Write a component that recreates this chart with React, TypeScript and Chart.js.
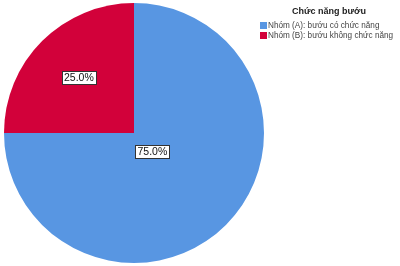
import React, { useEffect, useRef } from "react";
import { Chart, registerables } from "chart.js";

Chart.register(...registerables);

const legendTitle = "Chức năng bướu";
const categories = ["Nhóm (A): bướu có chức năng", "Nhóm (B): bướu không chức năng"];
const values = [75.0, 25.0];
const colors = ["#5896e2", "#d2013a"];
const labelRadiusFraction = [0.2, 0.6];

const FONT = "'Liberation Sans', Arial, sans-serif";

const overlayPlugin = {
  id: "overlay",
  afterDatasetsDraw(chart: any) {
    const ctx = chart.ctx;
    const meta = chart.getDatasetMeta(0);
    const total = values.reduce((a, b) => a + b, 0);
    ctx.save();
    ctx.font = `10.5px ${FONT}`;
    ctx.textAlign = "center";
    ctx.textBaseline = "middle";
    meta.data.forEach((arc: any, i: number) => {
      const p = arc.getProps(["x", "y", "startAngle", "endAngle", "outerRadius"], true);
      const mid = (p.startAngle + p.endAngle) / 2;
      const r = p.outerRadius * labelRadiusFraction[i];
      const x = p.x + Math.cos(mid) * r;
      const y = p.y + Math.sin(mid) * r;
      const text = ((values[i] / total) * 100).toFixed(1) + "%";
      const w = ctx.measureText(text).width + 4;
      const h = 13;
      ctx.fillStyle = "#ffffff";
      ctx.fillRect(Math.round(x - w / 2) + 0.5, Math.round(y - h / 2) + 0.5, Math.round(w), h);
      ctx.strokeStyle = "#333333";
      ctx.lineWidth = 1;
      ctx.strokeRect(Math.round(x - w / 2) + 0.5, Math.round(y - h / 2) + 0.5, Math.round(w), h);
      ctx.fillStyle = "#111111";
      ctx.fillText(text, x, y + 0.5);
    });

    // legend
    ctx.textAlign = "center";
    ctx.font = `bold 9px ${FONT}`;
    ctx.fillStyle = "#222222";
    ctx.fillText(legendTitle, 329, 12);
    ctx.textAlign = "left";
    ctx.font = `8.2px ${FONT}`;
    categories.forEach((c, i) => {
      const y = 25 + i * 10;
      ctx.fillStyle = colors[i];
      ctx.fillRect(260, y - 3, 7, 7);
      ctx.fillStyle = "#444444";
      ctx.fillText(c, 268, y + 0.5);
    });
    ctx.restore();
  },
};

export default function App() {
  const ref = useRef<HTMLCanvasElement>(null);
  useEffect(() => {
    document.body.style.margin = "0";
    const chart = new Chart(ref.current!, {
      type: "pie",
      data: {
        labels: categories,
        datasets: [
          {
            data: values,
            backgroundColor: colors,
            borderWidth: 0,
          },
        ],
      },
      options: {
        animation: false,
        responsive: false,
        layout: { padding: { left: 4, right: 136, top: 3, bottom: 3 } },
        plugins: {
          legend: { display: false },
          tooltip: { enabled: false },
        },
      },
      plugins: [overlayPlugin],
    });
    return () => chart.destroy();
  }, []);
  return <canvas ref={ref} width={400} height={266} style={{ display: "block" }} />;
}
